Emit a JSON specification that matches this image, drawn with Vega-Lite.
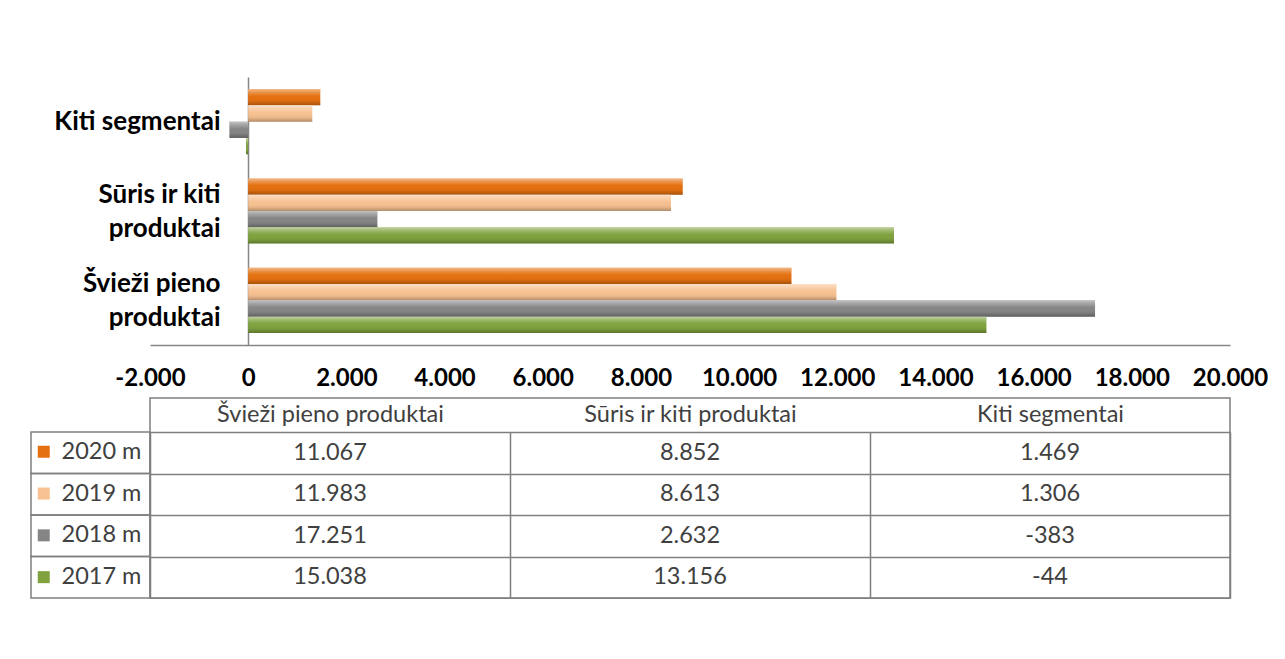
{
  "$schema": "https://vega.github.io/schema/vega-lite/v6.json",
  "padding": {"left": 30, "top": 77, "right": 0, "bottom": 0},
  "background": "white",
  "config": {
    "font": "Lato",
    "view": {"stroke": null},
    "locale": {"number": {"decimal": ",", "thousands": ".", "grouping": [3], "currency": ["", ""], "minus": "-"}}
  },
  "datasets": {
    "d": [
      {"cat": "Švieži pieno produktai", "year": "2020 m", "value": 11067},
      {"cat": "Švieži pieno produktai", "year": "2019 m", "value": 11983},
      {"cat": "Švieži pieno produktai", "year": "2018 m", "value": 17251},
      {"cat": "Švieži pieno produktai", "year": "2017 m", "value": 15038},
      {"cat": "Sūris ir kiti produktai", "year": "2020 m", "value": 8852},
      {"cat": "Sūris ir kiti produktai", "year": "2019 m", "value": 8613},
      {"cat": "Sūris ir kiti produktai", "year": "2018 m", "value": 2632},
      {"cat": "Sūris ir kiti produktai", "year": "2017 m", "value": 13156},
      {"cat": "Kiti segmentai", "year": "2020 m", "value": 1469},
      {"cat": "Kiti segmentai", "year": "2019 m", "value": 1306},
      {"cat": "Kiti segmentai", "year": "2018 m", "value": -383},
      {"cat": "Kiti segmentai", "year": "2017 m", "value": -44}
    ]
  },
  "columns": 2,
  "spacing": {"row": 53, "column": 0},
  "bounds": "flush",
  "resolve": {
    "scale": {"color": "independent", "x": "independent", "y": "independent"},
    "legend": {"color": "independent"}
  },
  "concat": [
    {
      "width": 119,
      "height": 268,
      "data": {"values": []},
      "mark": "point"
    },
    {
      "width": 1080,
      "height": 268,
      "data": {"name": "d"},
      "encoding": {
        "y": {
          "field": "cat",
          "type": "nominal",
          "sort": ["Kiti segmentai", "Sūris ir kiti produktai", "Švieži pieno produktai"],
          "scale": {"paddingInner": 0.27, "paddingOuter": 0.135},
          "axis": {
            "title": null,
            "offset": -98,
            "ticks": false,
            "tickSize": 0,
            "domainColor": "#868686",
            "domainWidth": 1.5,
            "labelFont": "Lato",
            "labelFontSize": 26,
            "labelFontWeight": "bold",
            "labelColor": "#000000",
            "labelPadding": 28,
            "labelLineHeight": 34,
            "labelLimit": 0,
            "labelOffset": {"condition": {"test": "datum.value != 'Kiti segmentai'", "value": -16}, "value": 0},
            "labelExpr": "datum.value == 'Kiti segmentai' ? datum.value : (datum.value == 'Sūris ir kiti produktai' ? ['Sūris ir kiti', 'produktai'] : ['Švieži pieno', 'produktai'])"
          }
        },
        "x": {
          "field": "value",
          "type": "quantitative",
          "scale": {"domain": [-2000, 20000], "nice": false, "zero": false},
          "axis": {
            "title": null,
            "values": [-2000, 0, 2000, 4000, 6000, 8000, 10000, 12000, 14000, 16000, 18000, 20000],
            "labelExpr": "format(datum.value, ',')",
            "grid": false,
            "ticks": false,
            "tickSize": 0,
            "domainColor": "#868686",
            "domainWidth": 1.5,
            "labelFont": "Lato",
            "labelFontSize": 24,
            "labelFontWeight": "bold",
            "labelColor": "#000000",
            "labelPadding": 21,
            "labelFlush": false,
            "labelOverlap": false
          }
        },
        "yOffset": {
          "field": "year",
          "type": "nominal",
          "sort": ["2020 m", "2019 m", "2018 m", "2017 m"],
          "scale": {"paddingInner": 0, "paddingOuter": 0}
        }
      },
      "layer": [
        {
          "mark": {"type": "bar"},
          "encoding": {
            "color": {
              "field": "year",
              "type": "nominal",
              "scale": {
                "domain": ["2020 m", "2019 m", "2018 m", "2017 m"],
                "range": ["#E4700F", "#F7C191", "#858585", "#7FA23E"]
              },
              "legend": {
                "title": null,
                "orient": "none",
                "legendX": -118,
                "legendY": 363,
                "symbolType": "square",
                "symbolSize": 144,
                "symbolStrokeWidth": 0,
                "labelFont": "Lato",
                "labelFontSize": 23.5,
                "labelColor": "#404040",
                "labelOffset": 6,
                "rowPadding": 16.8,
                "padding": 0
              }
            }
          }
        },
        {
          "mark": {
            "type": "bar",
            "fill": {
              "gradient": "linear",
              "x1": 0, "y1": 0, "x2": 0, "y2": 1,
              "stops": [
                {"offset": 0, "color": "rgba(255,255,255,0.5)"},
                {"offset": 0.2, "color": "rgba(255,255,255,0.25)"},
                {"offset": 0.45, "color": "rgba(255,255,255,0)"},
                {"offset": 0.75, "color": "rgba(0,0,0,0.05)"},
                {"offset": 1, "color": "rgba(0,0,0,0.28)"}
              ]
            }
          }
        }
      ]
    },
    {
      "width": 119,
      "height": 200,
      "data": {"name": "d"},
      "transform": [{"filter": "datum.cat == 'Kiti segmentai'"}],
      "mark": {"type": "bar", "fill": "transparent", "stroke": "#7f7f7f", "strokeWidth": 1.5},
      "encoding": {
        "y": {
          "field": "year",
          "type": "nominal",
          "sort": ["2020 m", "2019 m", "2018 m", "2017 m"],
          "scale": {"range": [34, 200], "paddingInner": 0, "paddingOuter": 0},
          "axis": null
        }
      }
    },
    {
      "width": 1080,
      "height": 200,
      "data": {"name": "d"},
      "view": {"stroke": "#7f7f7f", "strokeWidth": 1.5},
      "mark": {"type": "text", "font": "Lato", "fontSize": 23.5, "color": "#404040"},
      "encoding": {
        "x": {
          "field": "cat",
          "type": "nominal",
          "sort": ["Švieži pieno produktai", "Sūris ir kiti produktai", "Kiti segmentai"],
          "scale": {"paddingInner": 0, "paddingOuter": 0},
          "axis": {
            "orient": "top",
            "title": null,
            "offset": -34,
            "ticks": false,
            "domain": false,
            "grid": true,
            "gridColor": "#7f7f7f",
            "gridWidth": 1.5,
            "tickBand": "extent",
            "labelAngle": 0,
            "labelFont": "Lato",
            "labelFontSize": 23.5,
            "labelColor": "#404040",
            "labelPadding": 6,
            "labelLimit": 0
          }
        },
        "y": {
          "field": "year",
          "type": "nominal",
          "sort": ["2020 m", "2019 m", "2018 m", "2017 m"],
          "scale": {"range": [34, 200], "paddingInner": 0, "paddingOuter": 0},
          "axis": {
            "title": null,
            "labels": false,
            "ticks": false,
            "domain": false,
            "grid": true,
            "gridColor": "#7f7f7f",
            "gridWidth": 1.5,
            "tickBand": "extent"
          }
        },
        "text": {"field": "value", "type": "quantitative", "format": ","}
      }
    }
  ]
}
